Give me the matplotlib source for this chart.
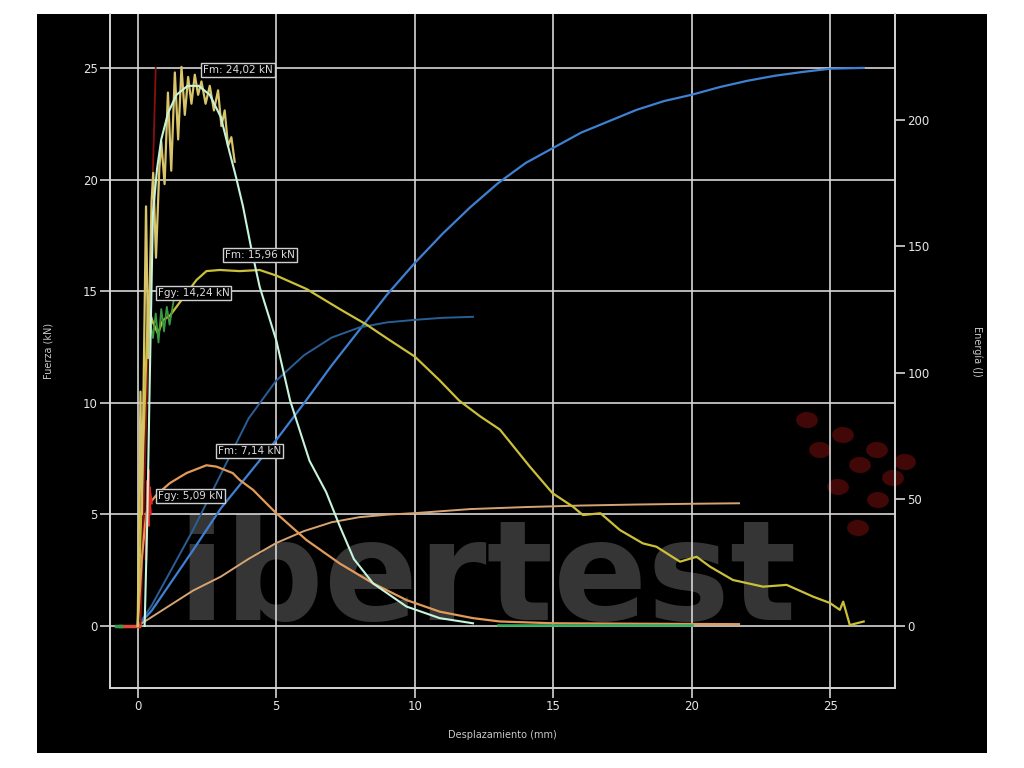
import matplotlib
matplotlib.use("Agg")
import matplotlib.pyplot as plt
from matplotlib.patches import Rectangle, Ellipse

# ---------------- data ----------------
# Test 1 (Fm 24,02 kN) - raw oscillating force
raw1_x = [0.0, 0.1, 0.15, 0.3, 0.38, 0.5, 0.56, 0.66, 0.78, 0.85, 0.97, 1.09, 1.21, 1.34, 1.46,
          1.58, 1.7, 1.82, 1.94, 2.06, 2.18, 2.3, 2.45, 2.6, 2.75, 2.9, 3.02, 3.14, 3.26, 3.38, 3.5]
raw1_y = [0.0, 10.5, 5.0, 18.8, 12.0, 19.0, 20.3, 16.5, 20.5, 21.7, 19.8, 23.9, 20.4, 24.8, 21.8,
          25.05, 22.9, 24.6, 23.4, 24.7, 23.8, 24.4, 23.4, 24.2, 23.1, 24.0, 22.4, 23.1, 21.5, 21.9, 20.8]
# Test 1 - filtered force
f1_x = [0.25, 0.35, 0.42, 0.48, 0.55, 0.7, 0.85, 1.1, 1.4, 1.8, 2.2, 2.6, 3.0, 3.3, 3.55, 3.8,
        4.1, 4.4, 5.0, 5.5, 6.2, 6.8, 7.3, 7.8, 8.5, 9.7, 10.9, 12.1]
f1_y = [0.0, 5.0, 10.0, 14.0, 18.5, 20.5, 21.8, 23.0, 23.8, 24.2, 24.2, 23.8, 22.8, 21.3, 20.1, 18.8,
        16.9, 15.2, 12.8, 10.1, 7.4, 6.0, 4.45, 3.0, 1.9, 0.87, 0.35, 0.12]
# Test 2 (Fm 15,96 kN)
f2_x = [0.0, 0.2, 0.37, 0.55, 0.73, 0.91, 1.16, 1.52, 2.12, 2.48, 2.96, 3.68, 4.4, 5.0, 6.09, 7.29,
        8.26, 9.1, 10.0, 10.9, 11.6, 12.35, 13.07, 14.15, 14.97, 15.7, 16.07, 16.7, 17.4, 18.23,
        18.72, 19.57, 20.17, 20.65, 21.48, 22.57, 23.42, 24.38, 24.98, 25.34, 25.46, 25.7, 26.2]
f2_y = [0.0, 8.0, 14.3, 13.6, 13.1, 13.7, 13.9, 14.5, 15.5, 15.9, 15.95, 15.9, 15.95, 15.7, 15.1, 14.2,
        13.5, 12.8, 12.07, 11.0, 10.1, 9.4, 8.8, 7.14, 5.95, 5.35, 4.97, 5.05, 4.3, 3.7,
        3.55, 2.88, 3.1, 2.66, 2.06, 1.76, 1.84, 1.31, 1.03, 0.72, 1.09, 0.04, 0.2]
raw2_x = [0.4, 0.55, 0.65, 0.75, 0.85, 0.95, 1.05, 1.15, 1.3]
raw2_y = [14.0, 12.9, 14.0, 12.7, 14.2, 13.2, 14.3, 13.5, 14.6]
# Test 3 (Fm 7,14 kN)
f3_x = [0.0, 0.15, 0.3, 0.43, 0.7, 1.16, 1.76, 2.48, 2.84, 3.43, 3.68, 4.16, 5.0, 6.09, 7.29, 8.48,
        9.7, 10.9, 12.1, 13.07, 15.0, 18.0, 21.7]
f3_y = [0.0, 3.0, 5.0, 5.5, 5.9, 6.4, 6.85, 7.2, 7.14, 6.85, 6.54, 6.1, 5.05, 3.85, 2.8, 1.92,
        1.16, 0.64, 0.35, 0.2, 0.12, 0.1, 0.08]
raw3_x = [0.3, 0.35, 0.4, 0.38, 0.45, 0.42, 0.5]
raw3_y = [3.0, 6.5, 4.5, 7.0, 5.0, 6.2, 5.5]
base_red_x = [-0.65, 0.05]
base_green_x = [-0.8, -0.6]
base_green2_x = [13.0, 20.0]
# stiffness line
stiff_x = [0.1, 0.65]
stiff_y = [0.0, 25.0]
# Energies (J)
e1_x = [0, 0.5, 1, 2, 3, 4, 5, 6, 7, 8, 9, 10, 11, 12, 13, 14, 15, 16, 17, 18, 19, 20, 21, 22, 23, 24, 25, 26.2]
e1_y = [0, 6, 14, 30, 46.5, 60, 73.5, 88, 103, 117, 131, 143.5, 155, 165.5, 175, 183, 189, 195, 199.5,
        204, 207.5, 210, 213, 215.5, 217.5, 219, 220.3, 220.6]
e2_x = [0, 0.5, 1, 2, 3, 4, 5, 6, 7, 8, 9, 10, 11, 12.1]
e2_y = [0, 8, 18, 38, 60, 82, 97, 107, 114, 118, 120, 121, 121.8, 122.2]
e3_x = [0, 1, 2, 3, 4, 5, 6, 7, 8, 9, 10, 12, 14, 16, 18, 20, 21.7]
e3_y = [0, 7, 14, 19.5, 26.5, 32.8, 37.5, 41, 43, 44, 44.6, 46.2, 47, 47.6, 48, 48.3, 48.5]

# annotations
ann_text = ["Fm: 24,02 kN", "Fm: 15,96 kN", "Fgy: 14,24 kN", "Fm: 7,14 kN", "Fgy: 5,09 kN"]
ann_x = [2.35, 3.14, 0.72, 2.9, 0.72]
ann_y = [24.9, 16.62, 14.92, 7.84, 5.82]

x_ticks = [0, 5, 10, 15, 20, 25]
y_ticks = [0, 5, 10, 15, 20, 25]
e_ticks = [0, 50, 100, 150, 200]

# ---------------- figure ----------------
fig = plt.figure(figsize=(10.24, 7.68), dpi=100, facecolor="white")
fig.patches.append(Rectangle((37 / 1024, 15 / 768), 950 / 1024, 739 / 768,
                             transform=fig.transFigure, facecolor="black", edgecolor="none", zorder=-5))

ax = fig.add_axes([110 / 1024, 80 / 768, 785 / 1024, 674 / 768])
ax.set_facecolor("black")
ax.set_xlim(-1.0, 27.33)
ax.set_ylim(-2.78, 27.42)
k = 22.32 / 2.53
ax2 = ax.twinx()
ax2.set_ylim(-2.78 * k, 27.42 * k)
ax2.set_zorder(ax.zorder + 1)
ax2.patch.set_visible(False)

grid_c = "#d6d6d6"
for a in (ax, ax2):
    for s in ("left", "bottom", "right"):
        a.spines[s].set_color(grid_c)
        a.spines[s].set_linewidth(1.2)
    a.spines["top"].set_visible(False)
    a.tick_params(colors="#e6e6e6", labelsize=8.5, length=7, width=1.1, pad=2, labelcolor="#e6e6e6")

ax.set_xticks(x_ticks)
ax.set_yticks(y_ticks)
ax2.set_yticks(e_ticks)
ax.grid(True, color=grid_c, linewidth=1.2)
ax.set_axisbelow(False)

# watermark (behind grid)
ax.text(1.44, 0.27, "ibertest", fontsize=100, fontweight="bold", color="#353535",
        ha="left", va="baseline", zorder=0.5, family="DejaVu Sans")
logo = [(807, 420), (843, 435), (877, 450), (905, 462), (820, 450), (860, 465), (893, 478),
        (838, 487), (878, 500), (858, 528)]
for (px, py) in logo:
    ax.add_patch(Ellipse((px / 1024, 1 - py / 768), 22 / 1024, 16 / 768, angle=-35,
                         transform=fig.transFigure, facecolor="#420707", edgecolor="none",
                         zorder=0.6, clip_on=False))

# energies on right axis
ax2.plot(e1_x, e1_y, color="#3f80d2", lw=1.6, zorder=3)
ax2.plot(e2_x, e2_y, color="#2a5f96", lw=1.4, zorder=3)
ax2.plot(e3_x, e3_y, color="#d6a472", lw=1.4, zorder=3)


def fplot(x, y, **kw):
    ax2.plot(x, [v * k for v in y], **kw)


fplot(stiff_x, stiff_y, color="#8a1010", lw=1.3, zorder=4)
fplot(f3_x, f3_y, color="#e29a5a", lw=1.6, zorder=4)
fplot(raw3_x, raw3_y, color="#e02a20", lw=1.8, zorder=4)
fplot(base_red_x, [0, 0], color="#e04a3a", lw=2.5, zorder=4)
fplot(base_green_x, [0, 0], color="#30a050", lw=2.5, zorder=4)
fplot(base_green2_x, [0.05, 0.05], color="#30b060", lw=1.8, zorder=4)
fplot(f2_x, f2_y, color="#cbc03a", lw=1.6, zorder=5)
fplot(raw2_x, raw2_y, color="#3a9a40", lw=1.3, zorder=5)
fplot(raw1_x, raw1_y, color="#d8c46a", lw=1.6, zorder=5)
fplot(f1_x, f1_y, color="#c6f4dc", lw=1.5, zorder=6)

for t, x, y in zip(ann_text, ann_x, ann_y):
    ax2.text(x, y * k, t, fontsize=7.5, color="#dcdcdc", ha="left", va="center", zorder=7,
             bbox=dict(boxstyle="square,pad=0.2", facecolor="black", edgecolor="#cfcfcf", linewidth=1))

ax.set_xlabel("Desplazamiento (mm)", color="#c8c8c8", fontsize=7, labelpad=12)
ax.set_ylabel("Fuerza (kN)", color="#c8c8c8", fontsize=7, labelpad=21)
ax2.set_ylabel("Energía (J)", color="#c8c8c8", fontsize=7, rotation=270, labelpad=38)

fig.savefig("out.png", dpi=100, facecolor="white")
